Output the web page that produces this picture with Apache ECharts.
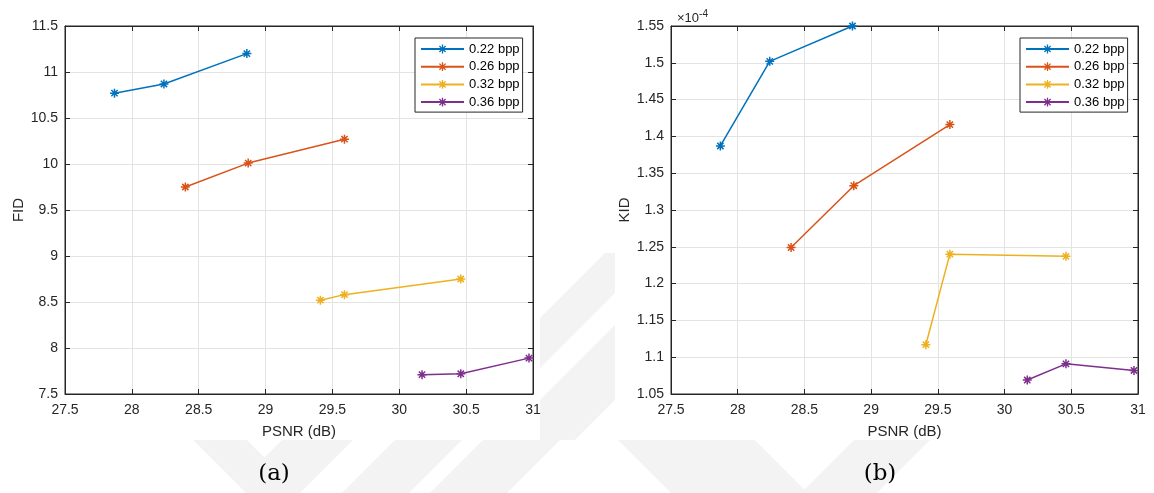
<!DOCTYPE html>
<html>
<head>
<meta charset="utf-8">
<script src="https://cdn.jsdelivr.net/npm/echarts@6/dist/echarts.min.js"></script>
<style>
html,body{margin:0;padding:0;background:#fff;}
#c{width:1154px;height:493px;}
</style>
</head>
<body>
<div id="c"></div>
<script>
// ---- data ----
const seriesNames = ['0.22 bpp', '0.26 bpp', '0.32 bpp', '0.36 bpp'];
const psnr_022 = [27.87, 28.24, 28.86];
const psnr_026 = [28.40, 28.87, 29.59];
const psnr_032 = [29.41, 29.59, 30.46];
const psnr_036 = [30.17, 30.46, 30.97];
const fid_022 = [10.77, 10.87, 11.20];
const fid_026 = [9.75, 10.01, 10.27];
const fid_032 = [8.52, 8.58, 8.75];
const fid_036 = [7.71, 7.72, 7.89];
// KID values in units of 1e-4
const kid_022 = [1.387, 1.502, 1.550];
const kid_026 = [1.249, 1.333, 1.416];
const kid_032 = [1.117, 1.240, 1.237];
const kid_036 = [1.069, 1.091, 1.082];
const xTicks = [27.5, 28, 28.5, 29, 29.5, 30, 30.5, 31];
const fidTicks = [7.5, 8, 8.5, 9, 9.5, 10, 10.5, 11, 11.5];
const kidTicks = [1.05, 1.1, 1.15, 1.2, 1.25, 1.3, 1.35, 1.4, 1.45, 1.5, 1.55];
const captions = ['(a)', '(b)'];

const colors = ['#0072BD', '#D95319', '#EDB120', '#7E2F8E'];
const psnrAll = [psnr_022, psnr_026, psnr_032, psnr_036];
const fidAll = [fid_022, fid_026, fid_032, fid_036];
const kidAll = [kid_022, kid_026, kid_032, kid_036];

const AX = '#262626';
const GRIDC = '#e3e3e3';
const WM = '#f3f3f3';
const FONT = 'Liberation Sans, Arial, Helvetica, sans-serif';
const star = 'path://M5,0L5,10M0,5L10,5M1.5,1.5L8.5,8.5M1.5,8.5L8.5,1.5';

const grids = [
  {left: 65, top: 26, width: 468, height: 368},
  {left: 671, top: 26, width: 467, height: 368}
];

function xAxes(gi) {
  const base = {gridIndex: gi, type: 'value', min: xTicks[0], max: xTicks[xTicks.length - 1], interval: 0.5,
    axisLine: {show: true, onZero: false, lineStyle: {color: AX, width: 1}},
    axisTick: {show: true, inside: true, length: 5, lineStyle: {color: AX}}};
  return [
    Object.assign({}, base, {position: 'bottom', name: 'PSNR (dB)', nameLocation: 'middle', nameGap: 30,
      nameTextStyle: {color: AX, fontSize: 15, fontFamily: FONT},
      axisLabel: {color: AX, fontSize: 14, fontFamily: FONT, margin: 9},
      splitLine: {show: true, lineStyle: {color: GRIDC, width: 1}}}),
    Object.assign({}, base, {position: 'top', axisLabel: {show: false}, splitLine: {show: false}})
  ];
}
function yAxes(gi, ticks, name, gap) {
  const step = +(ticks[1] - ticks[0]).toFixed(4);
  const base = {gridIndex: gi, type: 'value', min: ticks[0], max: ticks[ticks.length - 1], interval: step,
    axisLine: {show: true, onZero: false, lineStyle: {color: AX, width: 1}},
    axisTick: {show: true, inside: true, length: 5, lineStyle: {color: AX}}};
  return [
    Object.assign({}, base, {position: 'left', name: name, nameLocation: 'middle', nameGap: gap,
      nameTextStyle: {color: AX, fontSize: 15, fontFamily: FONT},
      axisLabel: {color: AX, fontSize: 14, fontFamily: FONT, margin: 7,
        formatter: v => String(+v.toFixed(4))},
      splitLine: {show: true, lineStyle: {color: GRIDC, width: 1}}}),
    Object.assign({}, base, {position: 'right', axisLabel: {show: false}, splitLine: {show: false}})
  ];
}

const series = [];
for (let g = 0; g < 2; g++) {
  const ys = g === 0 ? fidAll : kidAll;
  for (let i = 0; i < 4; i++) {
    series.push({
      name: seriesNames[i], type: 'line', xAxisIndex: g * 2, yAxisIndex: g * 2,
      data: psnrAll[i].map((x, k) => [x, ys[i][k]]),
      symbol: star, symbolSize: 9, clip: false,
      lineStyle: {color: colors[i], width: 1.5},
      itemStyle: {color: colors[i], borderColor: colors[i], borderWidth: 1.5},
      emphasis: {disabled: true}, z: 5
    });
  }
}

function legend(left) {
  return {left: left, top: 38, orient: 'vertical', backgroundColor: '#fff',
    borderColor: AX, borderWidth: 1, borderRadius: 0, padding: [4, 3, 3, 5],
    itemWidth: 43, itemHeight: 11, itemGap: 3.7, data: seriesNames, selectedMode: false,
    itemStyle: {borderWidth: 1.3},
    textStyle: {color: '#000', fontSize: 13, fontFamily: FONT, lineHeight: 14}};
}

// faint background watermark (decoration, outside the figure boxes)
function poly(pts, fill, z) { return {type: 'polygon', silent: true, z: z, shape: {points: pts}, style: {fill: fill}}; }
const watermark = [
  poly([[193,440],[353,440],[300,493],[246,493]], WM, -20),
  poly([[247,440],[282,440],[264.5,457.5]], '#fff', -19),
  poly([[395,440],[462,440],[409,493],[342,493]], WM, -20),
  poly([[483,440],[560,440],[507,493],[430,493]], WM, -20),
  poly([[540,318],[605,253],[615,253],[615,293],[540,368]], WM, -20),
  poly([[540,400],[615,325],[615,400],[575,440],[540,440]], WM, -20),
  poly([[618,440],[755,440],[808,493],[671,493]], WM, -20),
  poly([[854,440],[930,440],[877,493],[801,493]], WM, -20),
  {type: 'rect', silent: true, z: -10, shape: {x: 0, y: 0, width: 540, height: 440}, style: {fill: '#fff'}},
  {type: 'rect', silent: true, z: -10, shape: {x: 615, y: 0, width: 539, height: 440}, style: {fill: '#fff'}}
];

const chart = echarts.init(document.getElementById('c'), null, {renderer: 'canvas'});
chart.setOption({
  animation: false,
  backgroundColor: '#fff',
  grid: grids.map(g => Object.assign({show: true, borderColor: AX, borderWidth: 1, backgroundColor: '#fff'}, g)),
  xAxis: xAxes(0).concat(xAxes(1)),
  yAxis: yAxes(0, fidTicks, 'FID', 38).concat(yAxes(1, kidTicks, 'KID', 39)),
  legend: [legend(415), legend(1020)],
  series: series,
  graphic: watermark.concat([
    {type: 'text', x: 677, y: 9, z: 10, style: {text: '{b|×10}{s|-4}', fill: AX,
      rich: {b: {fontSize: 13, fontFamily: FONT, fill: AX, verticalAlign: 'bottom', lineHeight: 16},
             s: {fontSize: 10, fontFamily: FONT, fill: AX, verticalAlign: 'top', lineHeight: 11}}}},
    {type: 'text', x: 274, y: 474, z: 10, style: {text: captions[0], fill: '#000', font: '23px "DejaVu Serif", serif', align: 'center', verticalAlign: 'middle'}},
    {type: 'text', x: 880, y: 474, z: 10, style: {text: captions[1], fill: '#000', font: '23px "DejaVu Serif", serif', align: 'center', verticalAlign: 'middle'}}
  ])
});
</script>
</body>
</html>
